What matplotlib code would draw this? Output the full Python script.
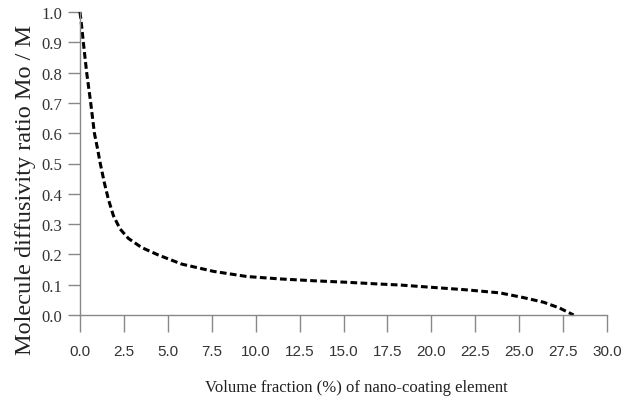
import matplotlib
matplotlib.use("Agg")
import matplotlib.pyplot as plt

# Data
volume_fraction = [0.0, 0.1, 0.19, 0.38, 0.61, 0.82, 1.0, 1.14, 1.38, 1.61, 1.9, 2.28,
                   2.75, 3.5, 4.46, 5.79, 7.6, 9.5, 11.4, 13.3, 15.2, 17.1, 18.2,
                   20.1, 22.0, 23.9, 25.2, 26.4, 27.3, 28.1]
diffusivity_ratio = [1.0, 0.95, 0.90, 0.80, 0.70, 0.60, 0.548, 0.504, 0.438, 0.383,
                     0.328, 0.284, 0.253, 0.223, 0.198, 0.168, 0.144, 0.127, 0.119,
                     0.113, 0.108, 0.102, 0.099, 0.091, 0.083, 0.073, 0.058, 0.042,
                     0.023, 0.0]
x_ticks = [0.0, 2.5, 5.0, 7.5, 10.0, 12.5, 15.0, 17.5, 20.0, 22.5, 25.0, 27.5, 30.0]
y_ticks = [0.0, 0.1, 0.2, 0.3, 0.4, 0.5, 0.6, 0.7, 0.8, 0.9, 1.0]
x_label = "Volume fraction (%) of nano-coating element"
y_label = "Molecule diffusivity ratio Mo / M"

W, H = 634, 402
fig = plt.figure(figsize=(W / 100, H / 100), dpi=100)
ax = fig.add_axes([80 / W, 1 - 316 / H, 527 / W, 303 / H])

ax.plot(volume_fraction, diffusivity_ratio, color="black", lw=2.2,
        linestyle=(0, (2.2, 1.1)), clip_on=False, solid_joinstyle="round")

ax.set_xlim(0, 30)
ax.set_ylim(0, 1)
ax.set_xticks(x_ticks)
ax.set_yticks(y_ticks)
ax.set_xticklabels([f"{t:.1f}" for t in x_ticks],
                   family="Liberation Sans", fontsize=11, color="#333333")
ax.set_yticklabels([f"{t:.1f}" for t in y_ticks],
                   family="Liberation Serif", fontsize=12, color="#333333")

for s in ["top", "right"]:
    ax.spines[s].set_visible(False)
for s in ["left", "bottom"]:
    ax.spines[s].set_color("#888888")
    ax.spines[s].set_linewidth(1.0)

ax.tick_params(axis="x", direction="out", length=12, width=1.0, color="#888888", pad=9)
ax.tick_params(axis="y", direction="out", length=9, width=1.0, color="#888888", pad=4)

ax.set_xlabel(x_label, family="Liberation Serif", fontsize=12, color="#222222",
              va="center")
ax.xaxis.set_label_coords(0.524, -0.238)
ax.set_ylabel(y_label, family="Liberation Serif", fontsize=17.5, color="#222222",
              va="center")
ax.yaxis.set_label_coords(-0.104, 0.416)

fig.savefig("out.png", dpi=100)
